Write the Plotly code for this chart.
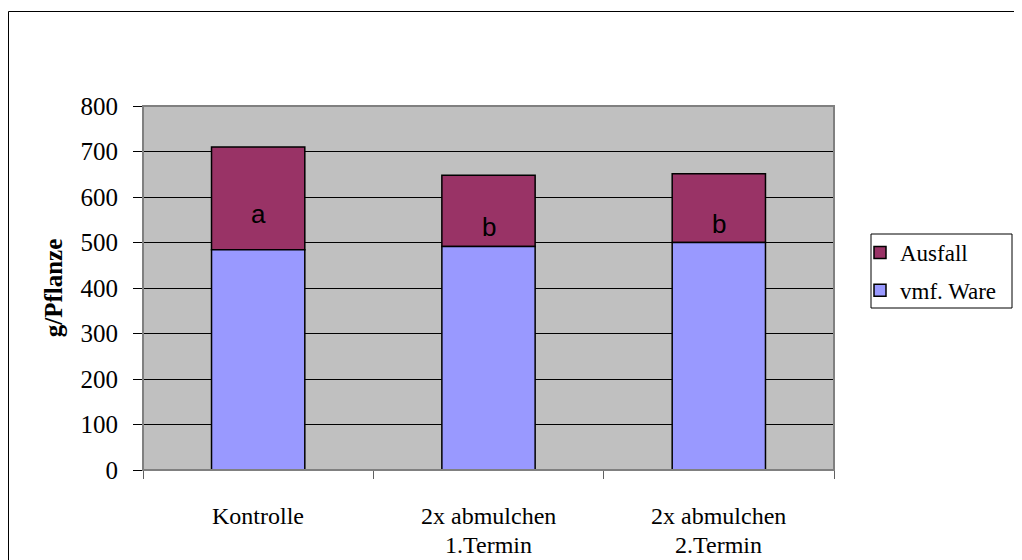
import plotly.graph_objects as go

categories = ["Kontrolle", "2x abmulchen 1.Termin", "2x abmulchen 2.Termin"]
label_line1 = ["Kontrolle", "2x abmulchen", "2x abmulchen"]
label_line2 = ["", "1.Termin", "2.Termin"]
vmf_ware = [484, 491, 500]
ausfall = [226, 157, 151]
letters = ["a", "b", "b"]
y_ticks = [0, 100, 200, 300, 400, 500, 600, 700, 800]

# page has an 8px body margin, so figure coordinates = screen coordinates - 8
OFF = 8
W, H = 1022 - OFF, 560 - OFF
ML, MT = 143 - OFF, 106 - OFF
PR, PB = 834 - OFF, 470 - OFF
MR, MB = W - PR, H - PB
PW, PH = PR - ML, PB - MT

def px_x(p):
    return (p - OFF - ML) / PW

def px_y(p):
    return (PB - (p - OFF)) / PH

serif = "Liberation Serif"

fig = go.Figure()
fig.add_trace(go.Bar(
    x=categories, y=ausfall, base=vmf_ware, name="Ausfall",
    marker=dict(color="#993366", line=dict(color="black", width=1.5)),
    legendgroup="g1",
))
fig.add_trace(go.Bar(
    x=categories, y=vmf_ware, name="vmf. Ware",
    marker=dict(color="#9999FF", line=dict(color="black", width=1.5)),
    legendgroup="g2",
))

for c, v, a, t in zip(categories, vmf_ware, ausfall, letters):
    fig.add_annotation(
        x=c, y=v + a / 2, text=t, showarrow=False, yshift=-16,
        font=dict(family="Arial, Liberation Sans", size=26, color="black"),
    )

# category labels (two lines each, Excel-like tight line spacing)
for c, l1, l2 in zip(categories, label_line1, label_line2):
    for txt, shift in ((l1, -46), (l2, -75)):
        if txt:
            fig.add_annotation(
                x=c, xref="x", y=0, yref="paper", yanchor="middle",
                text=txt, showarrow=False, yshift=shift,
                font=dict(family=serif, size=24, color="black"),
            )

# plot area border
fig.add_shape(type="rect", xref="paper", yref="paper", x0=0, x1=1, y0=0, y1=1,
              line=dict(color="#808080", width=2), layer="above")
# outer chart border
fig.add_shape(type="rect", xref="paper", yref="paper",
              x0=px_x(8.5), x1=px_x(1060), y0=px_y(600), y1=px_y(11.5),
              line=dict(color="black", width=1), layer="above")
# legend box
fig.add_shape(type="rect", xref="paper", yref="paper",
              x0=px_x(871), x1=px_x(1012), y0=px_y(308), y1=px_y(234),
              line=dict(color="black", width=1), fillcolor="white", layer="below")

fig.update_layout(
    width=W, height=H,
    margin=dict(l=ML, r=MR, t=MT, b=MB, autoexpand=False),
    barmode="overlay", bargap=0.595,
    plot_bgcolor="#C0C0C0", paper_bgcolor="white",
    font=dict(family=serif, size=24, color="black"),
    showlegend=True,
    legend=dict(
        x=px_x(860), y=px_y(231), xanchor="left", yanchor="top",
        borderwidth=0, bgcolor="rgba(0,0,0,0)",
        font=dict(family=serif, size=23, color="black"),
        traceorder="grouped", tracegroupgap=5,
    ),
    xaxis=dict(
        automargin=False,
        showline=True, linecolor="black", linewidth=1,
        ticks="outside", ticklen=8, tickcolor="#606060", tickson="boundaries",
        showticklabels=False,
        showgrid=False,
    ),
    yaxis=dict(
        automargin=False,
        range=[0, 800], tickvals=y_ticks,
        showline=True, linecolor="black", linewidth=1,
        ticks="outside", ticklen=9, tickcolor="black",
        tickfont=dict(family=serif, size=25, color="black"),
        ticklabelstandoff=10,
        showgrid=True, gridcolor="black", gridwidth=1,
        zeroline=False,
        title=dict(text="<b>g/Pflanze</b>", standoff=10,
                   font=dict(family=serif, size=25, color="black")),
    ),
)

fig.write_html("out.html")
